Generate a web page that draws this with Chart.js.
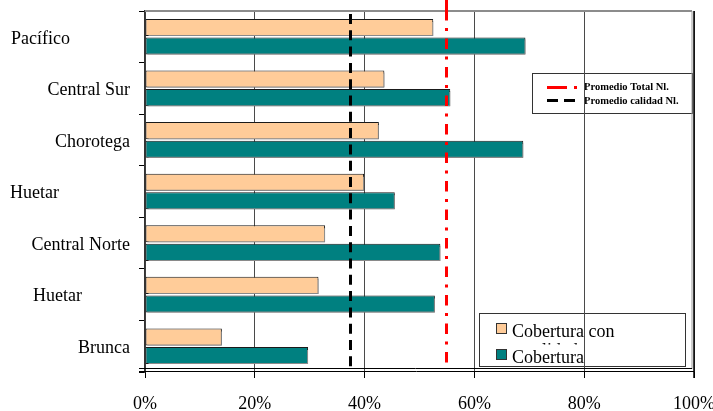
<!DOCTYPE html>
<html>
<head>
<meta charset="utf-8">
<script src="https://cdn.jsdelivr.net/npm/chart.js@4.4.1/dist/chart.umd.min.js"></script>
<style>
  html, body { margin: 0; padding: 0; background: #ffffff; }
  #wrap { width: 713px; height: 411px; position: relative; }
</style>
</head>
<body>
<div id="wrap"><canvas id="chart" width="713" height="411"></canvas></div>
<script>
// Regions (top to bottom)
const regions = ['Pacífico', 'Central Sur', 'Chorotega', 'Huetar', 'Central Norte', 'Huetar', 'Brunca'];

// Coverage with quality (%) per region
const coberturaCalidad = [52.5, 43.6, 42.6, 39.9, 32.8, 31.6, 14.0];

// Total coverage (%) per region
const cobertura = [69.3, 55.6, 68.9, 45.5, 53.8, 52.8, 29.7];

// National averages (%)
const promedioTotal = 54.8;
const promedioCalidad = 37.4;

// Percentage axis ticks
const xTickValues = [0, 20, 40, 60, 80, 100];

const seriesNames = ['Cobertura con calidad', 'Cobertura'];
const averageNames = ['Promedio Total Nl.', 'Promedio calidad Nl.'];

const SERIF = "'Liberation Serif', 'Times New Roman', serif";

// Right edge of each region label (px), following the original layout
const labelRightEdge = [70, 130, 130, 59, 130, 82, 130];

// Draws the region names next to the category axis
const regionLabels = {
  id: 'regionLabels',
  afterDraw(chart) {
    const ctx = chart.ctx;
    const y = chart.scales.y;
    ctx.save();
    ctx.font = '18px ' + SERIF;
    ctx.fillStyle = '#000';
    ctx.textAlign = 'right';
    ctx.textBaseline = 'middle';
    chart.data.labels.forEach((lab, i) => {
      ctx.fillText(lab, labelRightEdge[i], y.getPixelForValue(i) + 2);
    });
    ctx.restore();
  }
};

// Grey drop shadow under the bars
const barShadow = {
  id: 'barShadow',
  beforeDatasetDraw(chart) {
    const ctx = chart.ctx;
    ctx.save();
    ctx.shadowColor = '#8a8a8a';
    ctx.shadowOffsetX = 2;
    ctx.shadowOffsetY = 2;
    ctx.shadowBlur = 0;
  },
  afterDatasetDraw(chart) {
    chart.ctx.restore();
  }
};

// Plot frame: grey top, double right and bottom edges
const plotFrame = {
  id: 'plotFrame',
  afterDatasetsDraw(chart) {
    const ctx = chart.ctx;
    const a = chart.chartArea;
    ctx.save();
    ctx.lineWidth = 2;
    ctx.strokeStyle = '#8c8c8c';
    ctx.beginPath();
    ctx.moveTo(a.left, a.top);
    ctx.lineTo(a.right - 2, a.top);
    ctx.stroke();
    ctx.lineWidth = 1;
    ctx.strokeStyle = '#9a9a9a';
    ctx.beginPath();
    ctx.moveTo(a.right - 2, a.top);
    ctx.lineTo(a.right - 2, a.bottom - 3);
    ctx.stroke();
    ctx.strokeStyle = '#000';
    ctx.lineWidth = 1.5;
    ctx.beginPath();
    ctx.moveTo(a.right, a.top);
    ctx.lineTo(a.right, a.bottom + 6);
    ctx.stroke();
    ctx.lineWidth = 1;
    ctx.beginPath();
    ctx.moveTo(a.left - 6, a.bottom - 3.5);
    ctx.lineTo(a.right - 2, a.bottom - 3.5);
    ctx.moveTo(a.left - 6, a.bottom - 0.5);
    ctx.lineTo(a.right, a.bottom - 0.5);
    ctx.stroke();
    ctx.restore();
  }
};

// Vertical national-average lines
const averageLines = {
  id: 'averageLines',
  afterDatasetsDraw(chart) {
    const ctx = chart.ctx;
    const a = chart.chartArea;
    const xs = chart.scales.x;
    ctx.save();
    ctx.lineWidth = 3;
    // quality average: black dashes
    const xq = Math.round(xs.getPixelForValue(promedioCalidad)) + 0.5;
    ctx.strokeStyle = '#000';
    ctx.setLineDash([10, 6.3]);
    ctx.beginPath();
    ctx.moveTo(xq, a.top + 3);
    ctx.lineTo(xq, a.bottom - 4);
    ctx.stroke();
    // total average: red dash-dot
    const xt = Math.round(xs.getPixelForValue(promedioTotal)) + 0.5;
    ctx.strokeStyle = '#ff0000';
    ctx.setLineDash([]);
    ctx.beginPath();
    ctx.moveTo(xt, 0);
    ctx.lineTo(xt, a.top);
    ctx.stroke();
    ctx.setLineDash([10.5, 7.5, 3, 7.5]);
    ctx.beginPath();
    ctx.moveTo(xt, a.top - 1);
    ctx.lineTo(xt, a.bottom - 4);
    ctx.stroke();
    ctx.restore();
  }
};

// Both legend boxes, painted before the grid so the grid lines cross them
const legends = {
  id: 'legends',
  beforeDraw(chart) {
    const ctx = chart.ctx;
    ctx.save();
    // averages legend
    ctx.fillStyle = '#fff';
    ctx.strokeStyle = '#333';
    ctx.lineWidth = 1;
    ctx.fillRect(532.5, 73.5, 160, 40);
    ctx.strokeRect(532.5, 73.5, 160, 40);
    ctx.lineWidth = 3;
    ctx.strokeStyle = '#ff0000';
    ctx.setLineDash([20, 7, 3, 10]);
    ctx.beginPath();
    ctx.moveTo(547, 87.5);
    ctx.lineTo(577, 87.5);
    ctx.stroke();
    ctx.strokeStyle = '#000';
    ctx.setLineDash([11, 6]);
    ctx.beginPath();
    ctx.moveTo(547, 100.5);
    ctx.lineTo(577, 100.5);
    ctx.stroke();
    ctx.setLineDash([]);
    ctx.fillStyle = '#000';
    ctx.font = 'bold 10.5px ' + SERIF;
    ctx.textAlign = 'left';
    ctx.textBaseline = 'middle';
    ctx.fillText(averageNames[0], 584, 87);
    ctx.fillText(averageNames[1], 584, 101);

    // series legend
    const ds = chart.data.datasets;
    ctx.fillStyle = '#fff';
    ctx.strokeStyle = '#333';
    ctx.lineWidth = 1;
    ctx.fillRect(479.5, 313.5, 206, 53);
    ctx.strokeRect(479.5, 313.5, 206, 53);
    ctx.font = '18px ' + SERIF;
    ctx.textBaseline = 'alphabetic';
    // first entry wraps; its second line is cut off by the next entry
    const words = ds[0].label.split(' ');
    const first = words.slice(0, 2).join(' ');
    const rest = words.slice(2).join(' ');
    ctx.fillStyle = '#000';
    ctx.fillText(first, 512, 337);
    ctx.save();
    ctx.beginPath();
    ctx.rect(500, 341, 180, 3.5);
    ctx.clip();
    ctx.fillText(rest, 526, 356);
    ctx.restore();
    ctx.fillText(ds[1].label, 512, 363);
    [[323.5, 0], [349.5, 1]].forEach(([yy, i]) => {
      ctx.fillStyle = ds[i].backgroundColor;
      ctx.fillRect(496.5, yy, 10, 10);
      ctx.strokeStyle = '#333';
      ctx.strokeRect(496.5, yy, 10, 10);
    });
    ctx.restore();
  }
};

new Chart(document.getElementById('chart'), {
  type: 'bar',
  data: {
    labels: regions,
    datasets: [
      {
        label: seriesNames[0],
        data: coberturaCalidad,
        backgroundColor: '#ffcc99',
        borderColor: '#1a1a1a',
        borderWidth: 1,
        borderSkipped: false,
        categoryPercentage: 0.72,
        barPercentage: 0.92
      },
      {
        label: seriesNames[1],
        data: cobertura,
        backgroundColor: '#008080',
        borderColor: '#1a1a1a',
        borderWidth: 1,
        borderSkipped: false,
        categoryPercentage: 0.72,
        barPercentage: 0.92
      }
    ]
  },
  options: {
    indexAxis: 'y',
    responsive: false,
    animation: false,
    devicePixelRatio: 1,
    layout: { padding: { top: 11, right: 19, left: 0, bottom: 0 } },
    plugins: {
      legend: { display: false },
      tooltip: { enabled: false }
    },
    scales: {
      x: {
        type: 'linear',
        min: 0,
        max: 100,
        afterBuildTicks(scale) {
          scale.ticks = xTickValues.map(v => ({ value: v }));
        },
        afterFit(scale) {
          scale.height = 39;
          scale.paddingLeft = 0;
          scale.paddingRight = 0;
        },
        ticks: {
          callback: v => v + '%',
          font: { family: SERIF, size: 18 },
          color: '#000',
          padding: 15,
          maxRotation: 0,
          autoSkip: false
        },
        grid: {
          color: '#4a4a4a',
          lineWidth: 1,
          drawTicks: true,
          tickLength: 6,
          tickColor: '#000'
        },
        border: { display: false }
      },
      y: {
        type: 'category',
        afterFit(scale) {
          scale.width = 145;
          scale.paddingTop = 0;
          scale.paddingBottom = 0;
        },
        ticks: { display: false },
        grid: {
          offset: true,
          drawOnChartArea: false,
          drawTicks: true,
          tickLength: 6,
          color: '#000'
        },
        border: { display: true, color: '#333', width: 1.5 }
      }
    }
  },
  plugins: [legends, barShadow, plotFrame, averageLines, regionLabels]
});
</script>
</body>
</html>
